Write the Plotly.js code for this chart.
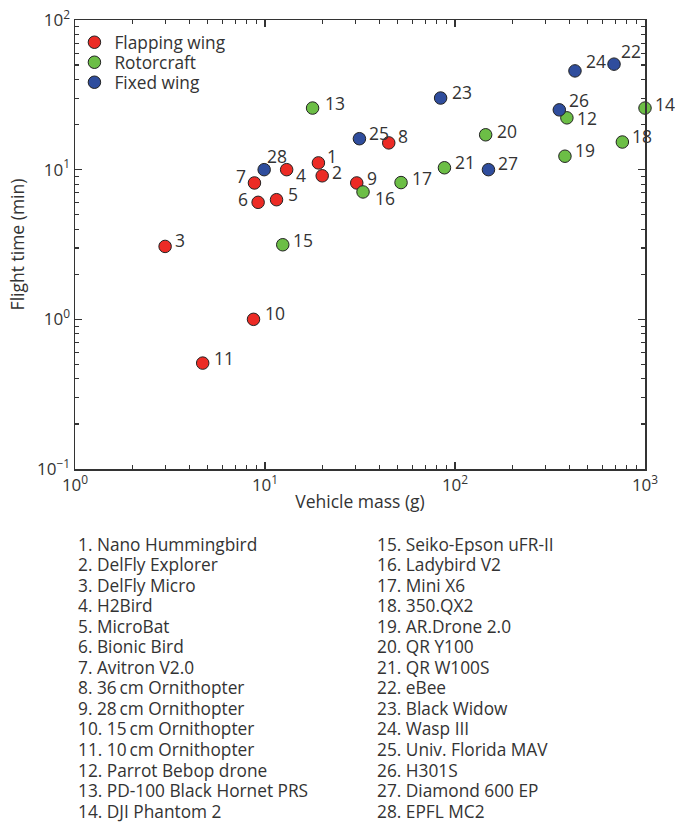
<!DOCTYPE html>
<html>
<head>
<meta charset="utf-8">
<script src="https://cdn.plot.ly/plotly-3.0.1.min.js"></script>
<style>html,body{margin:0;padding:0;background:#fff;}</style>
</head>
<body>
<div id="chart" style="width:675px;height:822px;"></div>
<script>
// ---- data ----
const ids = [1,2,3,4,5,6,7,8,9,10,11,12,13,14,15,16,17,18,19,20,21,22,23,24,25,26,27,28];
const vehicleNames = [
  "Nano Hummingbird","DelFly Explorer","DelFly Micro","H2Bird","MicroBat",
  "Bionic Bird","Avitron V2.0","36\u2009cm Ornithopter","28\u2009cm Ornithopter","15\u2009cm Ornithopter",
  "10\u2009cm Ornithopter","Parrot Bebop drone","PD-100 Black Hornet PRS","DJI Phantom 2","Seiko-Epson uFR-II",
  "Ladybird V2","Mini X6","350.QX2","AR.Drone 2.0","QR Y100",
  "QR W100S","eBee","Black Widow","Wasp III","Univ. Florida MAV",
  "H301S","Diamond 600 EP","EPFL MC2"
];
const massGrams = [19.1,20.0,2.98,13.0,11.5,9.2,8.8,44.8,30.4,8.7,4.7,388,17.8,1000,12.4,32.8,52,760,379,145,88,687,84,428,31.4,354,150,9.9];
const flightMinutes = [11.1,9.1,3.07,10.0,6.3,6.05,8.15,15.1,8.15,1.0,0.51,22.2,25.8,25.8,3.15,7.1,8.2,15.3,12.3,17.1,10.3,50.7,30.1,45.7,16.1,25.1,10.0,10.0];
const category = ["F","F","F","F","F","F","F","F","F","F","F","R","R","R","R","R","R","R","R","R","R","X","X","X","X","X","X","X"];
const categoryOrder = ["F","R","X"];
const categoryNames = {F:"Flapping wing", R:"Rotorcraft", X:"Fixed wing"};
const xTickVals = [1,10,100,1000];
const xTickText = ["10<sup>0</sup>","10<sup>1</sup>","10<sup>2</sup>","10<sup>3</sup>"];
const yTickVals = [0.1,1,10,100];
const yTickText = ["10<sup>\u22121</sup>","10<sup>0</sup>","10<sup>1</sup>","10<sup>2</sup>"];

// ---- styles ----
const FONT = "Open Sans, Liberation Sans, Arial, sans-serif";
const TXT = "#333333";
const catColor = {F:"#EC2B25", R:"#6CBE46", X:"#2F4D9D"};
// label offsets (px) relative to marker centre: [dx, dy(down +), anchor]
const labelOffset = {
  1:[7,-7,"left"], 2:[8,-4,"left"], 3:[8,-6,"left"], 4:[7,5,"left"], 5:[9,-6,"left"],
  6:[-8,-3,"right"], 7:[-6,-7,"right"], 8:[7,-7,"left"], 9:[8,-5,"left"], 10:[9,-6,"left"],
  11:[9,-5,"left"], 12:[8,0,"left"], 13:[10,-5,"left"], 14:[8,-4,"left"], 15:[8,-5,"left"],
  16:[10,6,"left"], 17:[9,-5,"left"], 18:[8,-6,"left"], 19:[8,-6,"left"], 20:[9,-4,"left"],
  21:[9,-6,"left"], 22:[5,-13,"left"], 23:[9,-6,"left"], 24:[9,-10,"left"], 25:[8,-6,"left"],
  26:[8,-10,"left"], 27:[8,-7,"left"], 28:[1,-14,"left"]
};

const plotTop = 20, plotBottom = 469, plotH = plotBottom - plotTop, plotL = 75, plotW = 570;
const legendNames = ["legend","legend2","legend3"];
const legendRowY = [42.5, 62.5, 82.5];   // pixel centres of the legend rows

// ---- traces ----
const traces = categoryOrder.map((c, k) => {
  const idx = ids.map((_, i) => i).filter(i => category[i] === c);
  return {
    type: "scatter", mode: "markers", name: categoryNames[c], legend: legendNames[k],
    x: idx.map(i => massGrams[i]), y: idx.map(i => flightMinutes[i]),
    text: idx.map(i => vehicleNames[i]),
    marker: {size: 12.5, color: catColor[c], line: {color: "#222222", width: 1}},
    cliponaxis: false, hoverinfo: "x+y+text"
  };
});

// ---- annotations ----
const annotations = [];
ids.forEach((id, i) => {
  const o = labelOffset[id];
  annotations.push({
    x: Math.log10(massGrams[i]), y: Math.log10(flightMinutes[i]), xref: "x", yref: "y",
    text: String(id), showarrow: false, xanchor: o[2], yanchor: "middle",
    xshift: o[0], yshift: -o[1], font: {family: FONT, size: 17.5, color: TXT}
  });
});
// vehicle list below the chart
const rowStart = 544, rowStep = 20.55;
vehicleNames.forEach((nm, i) => {
  const col = i < 14 ? 0 : 1;
  const row = i % 14;
  const px = col === 0 ? 76 : 375;
  const py = rowStart + row * rowStep;
  annotations.push({
    x: (px - plotL) / plotW, y: (plotBottom - py) / plotH, xref: "paper", yref: "paper",
    text: ids[i] + ". " + nm, showarrow: false, xanchor: "left", yanchor: "middle",
    font: {family: FONT, size: 17.3, color: TXT}
  });
});

const axisCommon = {
  type: "log", showgrid: false, zeroline: false,
  showline: true, linecolor: "#333333", linewidth: 1.5, mirror: "ticks",
  ticks: "inside", ticklen: 7, tickwidth: 1.3, tickcolor: "#333333",
  tickfont: {family: FONT, size: 17, color: TXT}, tickmode: "array"
};
function minorVals(lo, hi) {
  const v = [];
  for (let d = lo; d < hi; d++) for (let k = 2; k <= 9; k++) v.push(k * Math.pow(10, d));
  return v;
}

const layout = {
  width: 675, height: 822,
  margin: {l: 75, r: 30, t: 20, b: 353},
  paper_bgcolor: "#ffffff", plot_bgcolor: "#ffffff",
  font: {family: FONT, color: TXT},
  showlegend: true,
  xaxis: Object.assign({}, axisCommon, {
    range: [0, 3], tickvals: xTickVals, ticktext: xTickText,
    minor: {tickmode: "array", tickvals: minorVals(0, 3), ticks: "inside", ticklen: 4, tickwidth: 1.2, tickcolor: "#333333"},
    title: {text: "Vehicle mass (g)", font: {family: FONT, size: 17.5, color: TXT}, standoff: 1}
  }),
  yaxis: Object.assign({}, axisCommon, {
    range: [-1, 2], tickvals: yTickVals, ticktext: yTickText,
    minor: {tickmode: "array", tickvals: minorVals(-1, 2), ticks: "inside", ticklen: 4, tickwidth: 1.2, tickcolor: "#333333"},
    title: {text: "Flight time (min)", font: {family: FONT, size: 17.5, color: TXT}, standoff: 8}
  }),
  annotations: annotations
};
legendNames.forEach((ln, k) => {
  layout[ln] = {
    x: -0.001, y: (plotBottom - legendRowY[k]) / plotH, xanchor: "left", yanchor: "middle",
    bgcolor: "rgba(0,0,0,0)", borderwidth: 0,
    font: {family: FONT, size: 17.3, color: TXT}
  };
});

Plotly.newPlot("chart", traces, layout, {displayModeBar: false, staticPlot: true});
</script>
</body>
</html>
